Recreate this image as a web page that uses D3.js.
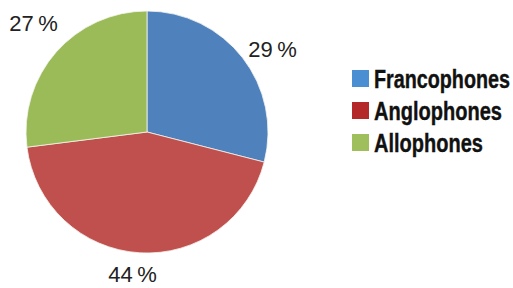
<!DOCTYPE html>
<html>
<head>
<meta charset="utf-8">
<script src="https://cdn.jsdelivr.net/npm/d3@7"></script>
<style>
  html, body { margin: 0; padding: 0; background: #fff; }
  svg { display: block; }
</style>
</head>
<body>
<div id="chart"></div>
<script>
// data
const categories = ["Francophones", "Anglophones", "Allophones"];
const values = [29, 44, 27];
const sliceColors = ["#4f81bd", "#c0504d", "#9bbb59"];
const legendColors = ["#4a8fd1", "#b5282a", "#9fbf5d"];

const width = 513, height = 288;
const cx = 147, cy = 132, radius = 121;

const svg = d3.select("#chart").append("svg")
    .attr("width", width)
    .attr("height", height);

const pie = d3.pie().sort(null).value(d => d);
const arcs = pie(values);

const arc = d3.arc().innerRadius(0).outerRadius(radius);
// labels sit outside the pie, nudged like excel does
const labelArc = d3.arc().innerRadius(150).outerRadius(150);
const nudge = [[7, 9], [-5, -8], [-1, -10]];

const g = svg.append("g").attr("transform", `translate(${cx},${cy})`);

g.selectAll("path")
    .data(arcs)
    .join("path")
    .attr("d", arc)
    .attr("fill", (d, i) => sliceColors[i])
    .attr("stroke", "#f4f4ee")
    .attr("stroke-width", 0.8);

g.selectAll("text")
    .data(arcs)
    .join("text")
    .attr("transform", (d, i) => {
        const [x, y] = labelArc.centroid(d);
        return `translate(${x + nudge[i][0]},${y + nudge[i][1]})`;
    })
    .attr("text-anchor", "middle")
    .attr("dy", "0.36em")
    .style("font-family", "'Liberation Sans', Arial, sans-serif")
    .style("font-size", "22px")
    .attr("fill", "#222")
    .text(d => d.data + "\u2009%");

// legend - squeeze bold text horizontally to get the condensed look
const legendWidths = [136, 128, 109];
const legend = svg.append("g").attr("transform", "translate(352,70)");
const row = legend.selectAll("g")
    .data(categories)
    .join("g")
    .attr("transform", (d, i) => `translate(0,${i * 32})`);

row.append("rect")
    .attr("width", 17)
    .attr("height", 17)
    .attr("fill", (d, i) => legendColors[i]);

row.append("text")
    .attr("y", 18)
    .style("font-family", "'Liberation Sans', Arial, sans-serif")
    .style("font-weight", "bold")
    .style("font-size", "26px")
    .attr("fill", "#111")
    .attr("stroke", "#111")
    .attr("stroke-width", 0.4)
    .text(d => d)
    .each(function (d, i) {
        const len = this.getComputedTextLength();
        d3.select(this).attr("transform", `translate(22,0) scale(${legendWidths[i] / len},1)`);
    });
</script>
</body>
</html>
